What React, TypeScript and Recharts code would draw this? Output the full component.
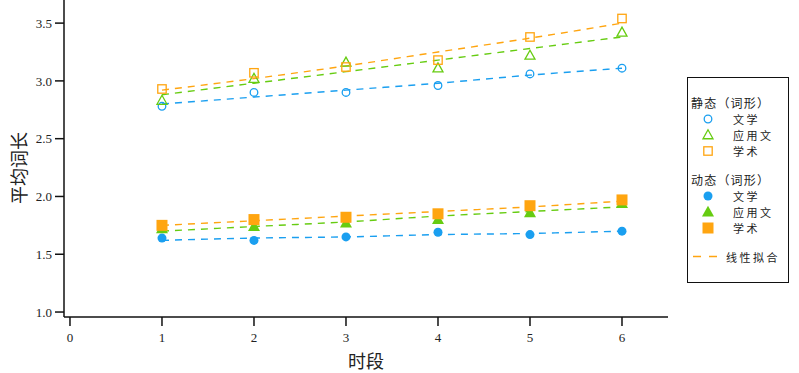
import React from 'react'
import { ComposedChart, Line, Scatter, XAxis, YAxis, Legend } from 'recharts'

// 时段
const periods = [1, 2, 3, 4, 5, 6]
const xTicks = [0, 1, 2, 3, 4, 5, 6]
const yTicks = [1.0, 1.5, 2.0, 2.5, 3.0, 3.5]

// 静态（词形）
const staticLit = [2.78, 2.9, 2.9, 2.96, 3.06, 3.11]
const staticApp = [2.83, 3.02, 3.16, 3.11, 3.22, 3.42]
const staticAcad = [2.93, 3.07, 3.12, 3.18, 3.38, 3.54]
// 动态（词形）
const dynLit = [1.64, 1.62, 1.65, 1.69, 1.67, 1.7]
const dynApp = [1.72, 1.74, 1.77, 1.8, 1.86, 1.94]
const dynAcad = [1.75, 1.8, 1.82, 1.85, 1.92, 1.97]

// 线性拟合
const fitStaticLit = [2.8, 2.86, 2.92, 2.98, 3.05, 3.11]
const fitStaticApp = [2.88, 2.98, 3.08, 3.18, 3.28, 3.38]
const fitStaticAcad = [2.92, 3.02, 3.13, 3.25, 3.37, 3.5]
const fitDynLit = [1.62, 1.64, 1.65, 1.67, 1.68, 1.7]
const fitDynApp = [1.7, 1.74, 1.78, 1.83, 1.87, 1.91]
const fitDynAcad = [1.75, 1.79, 1.83, 1.87, 1.91, 1.96]

const BLUE = '#1a9ff0'
const GREEN = '#66cc11'
const ORANGE = '#ffa510'

const toPoints = (vals: number[]) => periods.map((x, i) => ({ x, y: vals[i] }))

const FONT = '"Liberation Serif", "DejaVu Serif", "Noto Sans CJK SC", serif'
const CJK = '"Noto Sans CJK SC", sans-serif'

type Kind = 'circle' | 'triangle' | 'square'

function Marker({ cx, cy, kind, color, filled }: { cx: number; cy: number; kind: Kind; color: string; filled: boolean }) {
  const fill = filled ? color : 'none'
  const sw = filled ? 0 : 1.3
  if (kind === 'circle') {
    const r = filled ? 4.5 : 3.8
    return <circle cx={cx} cy={cy} r={r} fill={fill} stroke={color} strokeWidth={sw} />
  }
  if (kind === 'triangle') {
    const s = filled ? 6 : 5
    const pts = `${cx},${cy - s * 1.05} ${cx - s},${cy + s * 0.75} ${cx + s},${cy + s * 0.75}`
    return <polygon points={pts} fill={fill} stroke={color} strokeWidth={sw} />
  }
  const h = filled ? 5.5 : 4.2
  return <rect x={cx - h} y={cy - h} width={h * 2} height={h * 2} fill={fill} stroke={color} strokeWidth={sw} />
}

const shapeFor = (kind: Kind, color: string, filled: boolean) => (props: any) =>
  <Marker cx={props.cx} cy={props.cy} kind={kind} color={color} filled={filled} />

const legendGroups = [
  {
    title: '静态（词形）',
    filled: false,
    items: [
      { name: '文学', kind: 'circle' as Kind, color: BLUE },
      { name: '应用文', kind: 'triangle' as Kind, color: GREEN },
      { name: '学术', kind: 'square' as Kind, color: ORANGE },
    ],
  },
  {
    title: '动态（词形）',
    filled: true,
    items: [
      { name: '文学', kind: 'circle' as Kind, color: BLUE },
      { name: '应用文', kind: 'triangle' as Kind, color: GREEN },
      { name: '学术', kind: 'square' as Kind, color: ORANGE },
    ],
  },
]

function LegendBox() {
  return (
    <div
      style={{
        position: 'absolute',
        left: 687,
        top: 77,
        width: 102,
        height: 206,
        border: '1.5px solid #111',
        fontFamily: CJK,
        fontSize: 11,
        color: '#222',
        boxSizing: 'border-box',
        paddingTop: 16,
      }}
    >
      {legendGroups.map((g, gi) => (
        <div key={gi} style={{ marginBottom: 12 }}>
          <div style={{ paddingLeft: 3, height: 17, lineHeight: '17px', fontSize: 12, letterSpacing: 1.2 }}>{g.title}</div>
          {g.items.map((it, ii) => (
            <div key={ii} style={{ display: 'flex', alignItems: 'center', height: 16 }}>
              <svg width={40} height={16} style={{ flex: 'none' }}>
                <Marker cx={20} cy={8} kind={it.kind} color={it.color} filled={g.filled} />
              </svg>
              <span style={{ marginLeft: 5, letterSpacing: 2.5, lineHeight: '16px' }}>{it.name}</span>
            </div>
          ))}
        </div>
      ))}
      <div style={{ display: 'flex', alignItems: 'center', height: 17 }}>
        <svg width={38} height={17} style={{ flex: 'none' }}>
          <line x1={5} y1={8.5} x2={30} y2={8.5} stroke={ORANGE} strokeWidth={1.5} strokeDasharray="8 8" />
        </svg>
        <span style={{ letterSpacing: 2.5 }}>线性拟合</span>
      </div>
    </div>
  )
}

const YLabel = () => (
  <text
    x={18}
    y={168}
    transform="rotate(-90 18 168)"
    textAnchor="middle"
    dominantBaseline="central"
    fill="#222"
    fontSize={18}
    fontFamily={CJK}
  >
    平均词长
  </text>
)

export default function App() {
  const fits = [
    { vals: fitStaticLit, color: BLUE },
    { vals: fitStaticApp, color: GREEN },
    { vals: fitStaticAcad, color: ORANGE },
    { vals: fitDynLit, color: BLUE },
    { vals: fitDynApp, color: GREEN },
    { vals: fitDynAcad, color: ORANGE },
  ]
  const points = [
    { vals: staticLit, kind: 'circle' as Kind, color: BLUE, filled: false },
    { vals: staticApp, kind: 'triangle' as Kind, color: GREEN, filled: false },
    { vals: staticAcad, kind: 'square' as Kind, color: ORANGE, filled: false },
    { vals: dynLit, kind: 'circle' as Kind, color: BLUE, filled: true },
    { vals: dynApp, kind: 'triangle' as Kind, color: GREEN, filled: true },
    { vals: dynAcad, kind: 'square' as Kind, color: ORANGE, filled: true },
  ]

  return (
    <div style={{ position: 'absolute', left: 0, top: 0, width: 799, height: 373, background: '#fff' }}>
      <ComposedChart width={799} height={373} margin={{ top: 0, right: 131, bottom: 0, left: 8 }}>
        <XAxis
          type="number"
          dataKey="x"
          domain={[-0.065, 6.5]}
          ticks={xTicks}
          allowDataOverflow
          tickSize={9}
          tickMargin={7}
          height={56}
          stroke="#111"
          strokeWidth={1.5}
          tick={{ fill: '#222', fontSize: 13, fontFamily: FONT }}
          label={{ value: '时段', position: 'insideBottom', offset: 5, fill: '#222', fontSize: 18, fontFamily: CJK }}
        />
        <YAxis
          type="number"
          dataKey="y"
          domain={[0.957, 3.7]}
          ticks={yTicks}
          allowDataOverflow
          width={56}
          tickSize={9}
          tickMargin={3}
          stroke="#111"
          strokeWidth={1.5}
          tickFormatter={(v: number) => v.toFixed(1)}
          tick={{ fill: '#222', fontSize: 13, fontFamily: FONT }}
          label={{ content: () => <YLabel /> }}
        />
        {fits.map((f, i) => (
          <Line
            key={'fit' + i}
            data={toPoints(f.vals)}
            dataKey="y"
            type="monotone"
            stroke={f.color}
            strokeWidth={1.4}
            strokeDasharray="7 6"
            dot={false}
            activeDot={false}
            isAnimationActive={false}
          />
        ))}
        {points.map((p, i) => (
          <Scatter
            key={'pts' + i}
            data={toPoints(p.vals)}
            dataKey="y"
            shape={shapeFor(p.kind, p.color, p.filled)}
            isAnimationActive={false}
          />
        ))}
        <Legend content={() => null} />
      </ComposedChart>
      <LegendBox />
    </div>
  )
}
